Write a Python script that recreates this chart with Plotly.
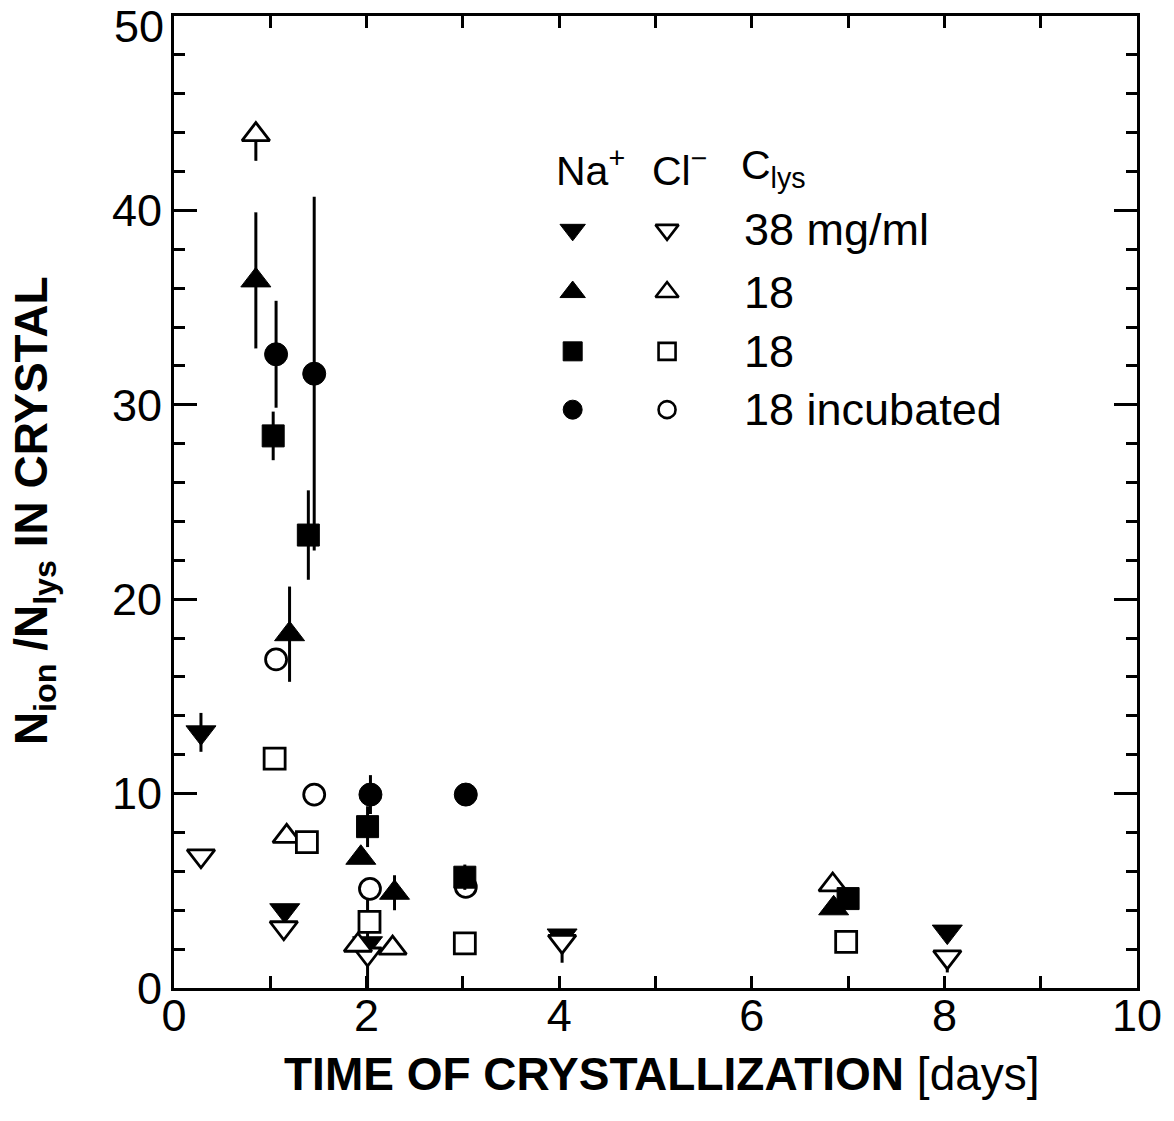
import plotly.graph_objects as go

# ---------------- data ----------------
# Na+ (filled) / Cl- (open), C_lys = 38 mg/ml  (down triangles)
na38_x = [0.28, 1.15, 2.01, 4.03, 8.03]
na38_y = [13.15, 4.0, 2.3, 2.7, 2.9]
na38_err = [1.0, 0.0, 2.3, 0.0, 0.0]

cl38_x = [0.28, 1.14, 2.01, 4.03, 8.03]
cl38_y = [6.8, 3.1, 1.75, 2.4, 1.6]
cl38_err = [0.0, 0.0, 0.0, 1.1, 0.8]

# C_lys = 18 (up triangles)
na18t_x = [0.85, 1.2, 1.94, 2.29, 6.85]
na18t_y = [36.4, 18.2, 6.7, 4.9, 4.1]
na18t_err = [3.5, 2.45, 0.0, 0.9, 0.0]

cl18t_x = [0.85, 1.17, 1.91, 2.27, 6.84]
cl18t_y = [43.9, 7.8, 2.2, 2.05, 5.3]
cl18t_errminus = [1.35, 0.0, 0.0, 0.0, 0.0]

# C_lys = 18 (squares)
na18s_x = [1.03, 1.395, 2.01, 3.02, 7.0]
na18s_y = [28.4, 23.3, 8.3, 5.7, 4.6]
na18s_err = [1.25, 2.3, 1.05, 0.65, 0.0]

cl18s_x = [1.045, 1.38, 2.03, 3.02, 6.98]
cl18s_y = [11.8, 7.5, 3.4, 2.3, 2.37]

# C_lys = 18 incubated (circles)
na18i_x = [1.06, 1.456, 2.04, 3.03]
na18i_y = [32.6, 31.6, 9.95, 9.95]
na18i_err = [2.75, 9.1, 1.0, 0.0]

cl18i_x = [1.06, 1.456, 2.035, 3.03]
cl18i_y = [16.9, 9.95, 5.1, 5.2]

x_ticks = [0, 2, 4, 6, 8, 10]
y_ticks = [0, 10, 20, 30, 40]
y_top_label = "50"

# legend (key) table
legend_header = ["Na<sup>+</sup>", "Cl<sup>\u2212</sup>", "C<sub>lys</sub>"]
legend_labels = ["38 mg/ml", "18", "18", "18 incubated"]
legend_symbols = ["triangle-down", "triangle-up", "square", "circle"]

# ---------------- layout helpers ----------------
FONT = "Liberation Sans, Arial, Helvetica, sans-serif"
BLACK = "black"
key_x_filled = 4.14
key_x_open = 5.12
key_text_x = 5.9
header_x = [3.95, 4.94, 5.87]
header_y = 42.2
row_y = [39.0, 35.8, 32.75, 29.75]

fig = go.Figure()


def add_pts(x, y, symbol, size, fill, lw, err=None, errminus=None):
    t = dict(x=x, y=y, mode="markers",
             marker=dict(symbol=symbol, size=size, color=fill,
                         line=dict(color=BLACK, width=lw)),
             showlegend=False, hoverinfo="skip")
    if err is not None or errminus is not None:
        t["error_y"] = dict(type="data", array=err if err is not None else [0] * len(x),
                            arrayminus=errminus if errminus is not None else err,
                            symmetric=False, color=BLACK, thickness=3, width=0)
    fig.add_trace(go.Scatter(**t))


# draw order chosen to reproduce overlaps
add_pts(na38_x, na38_y, "triangle-down", 26, BLACK, 1, err=na38_err)
add_pts(cl38_x, cl38_y, "triangle-down", 24, "white", 2.8, err=[0] * 5, errminus=cl38_err)
add_pts(cl18t_x, cl18t_y, "triangle-up", 24, "white", 2.8, err=[0] * 5, errminus=cl18t_errminus)
add_pts(cl18s_x, cl18s_y, "square", 21, "white", 2.8)
add_pts(cl18i_x, cl18i_y, "circle", 21, "white", 2.8)
add_pts(na18t_x, na18t_y, "triangle-up", 26, BLACK, 1, err=na18t_err)
add_pts(na18s_x, na18s_y, "square", 22, BLACK, 1, err=na18s_err)
add_pts(na18i_x, na18i_y, "circle", 23, BLACK, 1, err=na18i_err)

# legend keys
for sym, ry in zip(legend_symbols, row_y):
    tri = "triangle" in sym
    fig.add_trace(go.Scatter(x=[key_x_filled], y=[ry], mode="markers",
                             marker=dict(symbol=sym, size=22 if tri else 19,
                                         color=BLACK, line=dict(color=BLACK, width=1)),
                             showlegend=False, hoverinfo="skip"))
    fig.add_trace(go.Scatter(x=[key_x_open], y=[ry], mode="markers",
                             marker=dict(symbol=sym, size=20 if tri else 17,
                                         color="white", line=dict(color=BLACK, width=2.6)),
                             showlegend=False, hoverinfo="skip"))

annotations = []
for hx, htxt in zip(header_x, legend_header):
    annotations.append(dict(x=hx, y=header_y, xref="x", yref="y", text=htxt,
                            showarrow=False, xanchor="left", yanchor="middle",
                            font=dict(family=FONT, size=41, color=BLACK)))
for lbl, ry in zip(legend_labels, row_y):
    annotations.append(dict(x=key_text_x, y=ry, xref="x", yref="y", text=lbl,
                            showarrow=False, xanchor="left", yanchor="middle",
                            font=dict(family=FONT, size=45, color=BLACK)))

# top y tick label (drawn inside the page, as in the original)
annotations.append(dict(x=0, y=1.0, xref="paper", yref="paper", text=y_top_label,
                        showarrow=False, xanchor="right", yanchor="top",
                        xshift=-8, yshift=17,
                        font=dict(family=FONT, size=45, color=BLACK)))

# axis titles
annotations.append(dict(x=0.507, y=-0.088, xref="paper", yref="paper",
                        text="<b>TIME OF CRYSTALLIZATION</b> [days]",
                        showarrow=False, xanchor="center", yanchor="middle",
                        font=dict(family=FONT, size=46, color=BLACK)))
annotations.append(dict(x=-0.145, y=0.491, xref="paper", yref="paper",
                        text="<b>N<sub>ion</sub> /N<sub>lys</sub> IN CRYSTAL</b>",
                        textangle=-90, showarrow=False, xanchor="center", yanchor="middle",
                        font=dict(family=FONT, size=46, color=BLACK)))

fig.update_layout(
    width=1174, height=1121,
    margin=dict(l=174, r=28, t=16, b=133, pad=0),
    paper_bgcolor="white", plot_bgcolor="white",
    font=dict(family=FONT, color=BLACK),
    annotations=annotations,
    showlegend=False,
)
fig.update_xaxes(
    range=[0, 10], tickvals=x_ticks, ticktext=[str(v) for v in x_ticks],
    ticks="inside", ticklen=12, tickwidth=3, tickcolor=BLACK,
    minor=dict(dtick=1, tick0=0, ticks="inside", ticklen=12, tickwidth=3, tickcolor=BLACK),
    showline=True, linewidth=3, linecolor=BLACK, mirror="ticks",
    showgrid=False, zeroline=False,
    tickfont=dict(family=FONT, size=45, color=BLACK), ticklabelstandoff=-14,
)
fig.update_yaxes(
    range=[0, 50], tickvals=y_ticks, ticktext=[str(v) for v in y_ticks],
    ticks="inside", ticklen=23, tickwidth=3, tickcolor=BLACK,
    minor=dict(dtick=2, tick0=0, ticks="inside", ticklen=11, tickwidth=3, tickcolor=BLACK),
    showline=True, linewidth=3, linecolor=BLACK, mirror="ticks",
    showgrid=False, zeroline=False,
    tickfont=dict(family=FONT, size=45, color=BLACK), ticklabelstandoff=0,
)

fig.write_html("out.html")
